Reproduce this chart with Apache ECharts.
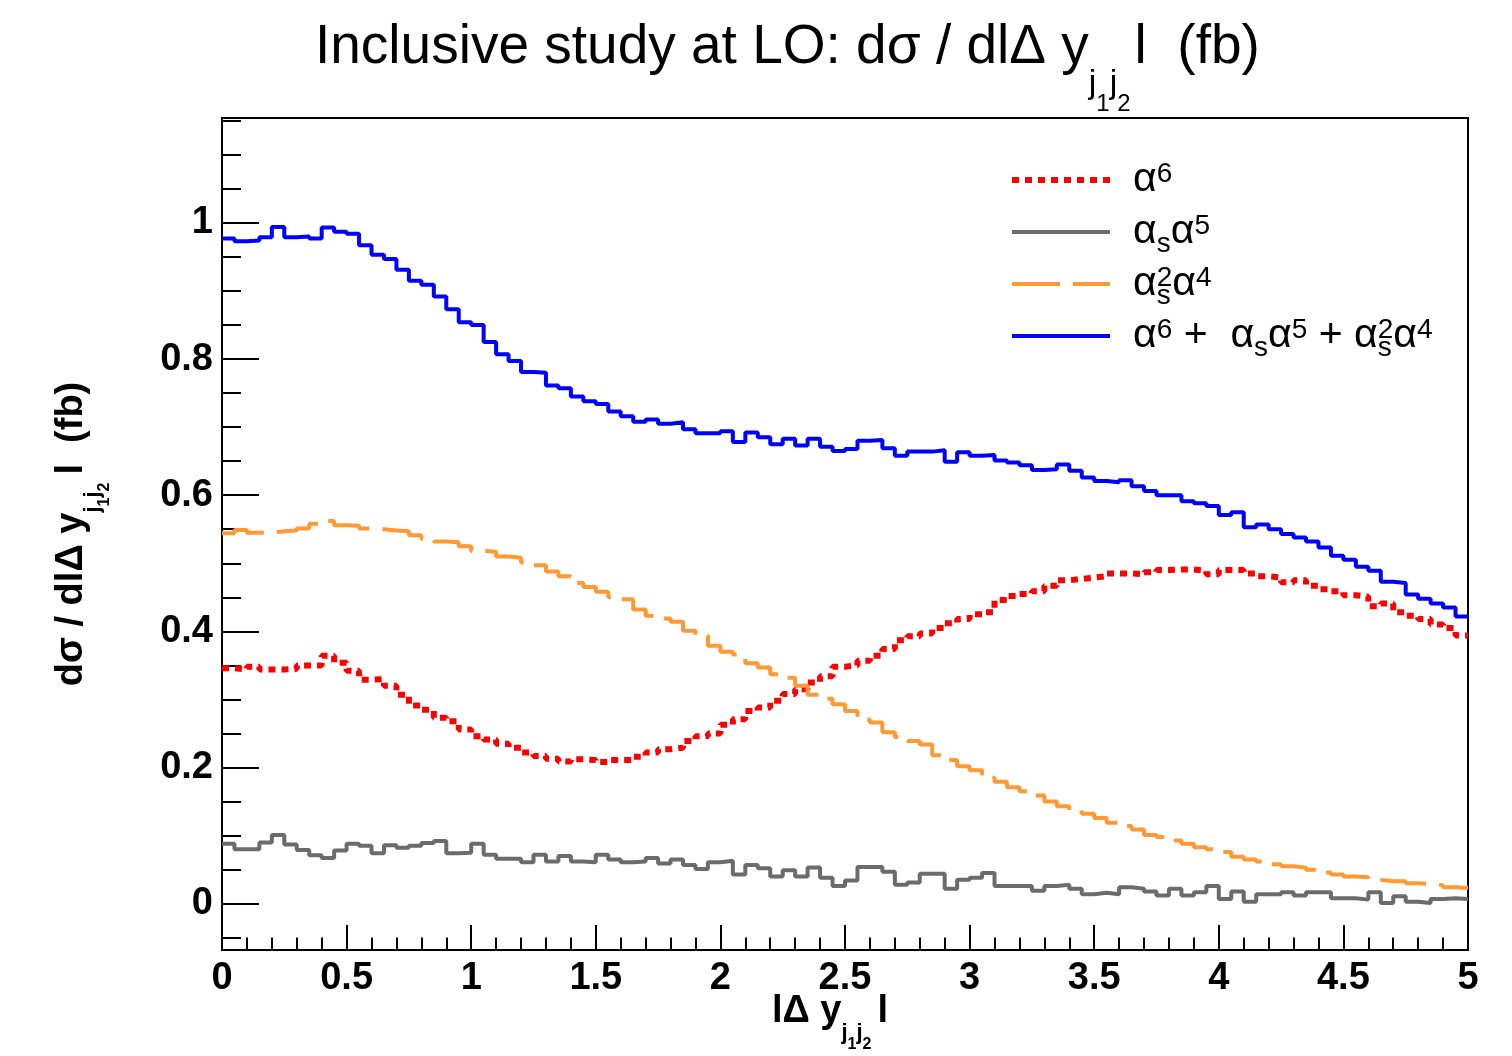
<!DOCTYPE html>
<html>
<head>
<meta charset="utf-8">
<script src="https://cdn.jsdelivr.net/npm/echarts@6/dist/echarts.min.js"></script>
<style>
  html, body { margin: 0; padding: 0; background: #fff; }
  #chart { width: 1512px; height: 1056px; }
</style>
</head>
<body>
<div id="chart"></div>
<script>
// histogram bins: 100 bins of width 0.05 on |Δy_j1j2| in [0, 5]
const binWidth = 0.05;

// α^6
const alpha6 = [
  0.346, 0.344, 0.348, 0.344, 0.344, 0.345, 0.350, 0.350, 0.364, 0.354,
  0.342, 0.329, 0.330, 0.320, 0.307, 0.291, 0.285, 0.273, 0.268, 0.256,
  0.246, 0.241, 0.235, 0.229, 0.222, 0.217, 0.213, 0.209, 0.212, 0.211,
  0.208, 0.211, 0.211, 0.216, 0.222, 0.227, 0.229, 0.239, 0.246, 0.250,
  0.263, 0.271, 0.283, 0.288, 0.298, 0.308, 0.315, 0.325, 0.334, 0.348,
  0.350, 0.357, 0.364, 0.374, 0.387, 0.393, 0.397, 0.405, 0.412, 0.418,
  0.425, 0.428, 0.446, 0.452, 0.455, 0.459, 0.467, 0.475, 0.477, 0.479,
  0.481, 0.485, 0.485, 0.484, 0.487, 0.490, 0.491, 0.491, 0.489, 0.484,
  0.490, 0.490, 0.485, 0.481, 0.479, 0.472, 0.475, 0.467, 0.462, 0.459,
  0.453, 0.451, 0.437, 0.441, 0.428, 0.423, 0.418, 0.410, 0.405, 0.394
];

// α_s α^5
const alphaS_alpha5 = [
  0.088, 0.080, 0.080, 0.090, 0.101, 0.087, 0.079, 0.071, 0.067, 0.078,
  0.088, 0.085, 0.074, 0.086, 0.082, 0.085, 0.089, 0.092, 0.074, 0.075,
  0.088, 0.072, 0.066, 0.066, 0.061, 0.072, 0.062, 0.070, 0.062, 0.061,
  0.072, 0.065, 0.061, 0.062, 0.067, 0.059, 0.065, 0.057, 0.051, 0.061,
  0.063, 0.043, 0.057, 0.052, 0.040, 0.049, 0.040, 0.053, 0.038, 0.026,
  0.034, 0.054, 0.054, 0.047, 0.028, 0.031, 0.044, 0.044, 0.022, 0.035,
  0.038, 0.045, 0.026, 0.026, 0.026, 0.019, 0.026, 0.028, 0.022, 0.014,
  0.016, 0.014, 0.024, 0.022, 0.018, 0.012, 0.022, 0.012, 0.017, 0.026,
  0.007, 0.018, 0.003, 0.014, 0.014, 0.017, 0.012, 0.017, 0.017, 0.008,
  0.008, 0.006, 0.017, 0.001, 0.011, 0.003, 0.001, 0.007, 0.008, 0.007
];

// α_s^2 α^4
const alphaS2_alpha4 = [
  0.544, 0.549, 0.545, 0.545, 0.547, 0.548, 0.551, 0.558, 0.562, 0.556,
  0.555, 0.551, 0.550, 0.548, 0.547, 0.541, 0.536, 0.532, 0.531, 0.525,
  0.518, 0.517, 0.510, 0.508, 0.501, 0.497, 0.488, 0.481, 0.471, 0.465,
  0.458, 0.450, 0.447, 0.432, 0.423, 0.419, 0.414, 0.401, 0.394, 0.379,
  0.370, 0.366, 0.353, 0.347, 0.337, 0.332, 0.320, 0.307, 0.301, 0.293,
  0.283, 0.270, 0.266, 0.252, 0.245, 0.239, 0.234, 0.218, 0.211, 0.202,
  0.196, 0.185, 0.179, 0.171, 0.165, 0.159, 0.150, 0.143, 0.137, 0.132,
  0.126, 0.119, 0.114, 0.109, 0.101, 0.098, 0.093, 0.088, 0.083, 0.080,
  0.076, 0.069, 0.065, 0.062, 0.058, 0.055, 0.053, 0.050, 0.046, 0.043,
  0.040, 0.039, 0.035, 0.033, 0.033, 0.030, 0.029, 0.027, 0.024, 0.023
];

// α^6 + α_s α^5 + α_s^2 α^4
const sumAll = [
  0.977, 0.973, 0.974, 0.979, 0.994, 0.979, 0.980, 0.977, 0.993, 0.987,
  0.984, 0.967, 0.953, 0.947, 0.931, 0.915, 0.909, 0.892, 0.873, 0.854,
  0.850, 0.825, 0.807, 0.797, 0.781, 0.780, 0.761, 0.757, 0.745, 0.738,
  0.734, 0.723, 0.716, 0.708, 0.711, 0.705, 0.707, 0.697, 0.691, 0.691,
  0.694, 0.678, 0.692, 0.685, 0.675, 0.683, 0.673, 0.683, 0.671, 0.665,
  0.668, 0.680, 0.681, 0.669, 0.658, 0.664, 0.664, 0.666, 0.649, 0.663,
  0.658, 0.659, 0.651, 0.648, 0.644, 0.637, 0.638, 0.645, 0.636, 0.626,
  0.621, 0.619, 0.622, 0.613, 0.606, 0.600, 0.600, 0.591, 0.588, 0.584,
  0.571, 0.575, 0.553, 0.557, 0.550, 0.543, 0.538, 0.532, 0.523, 0.511,
  0.505, 0.495, 0.489, 0.473, 0.471, 0.454, 0.448, 0.441, 0.435, 0.422
];

// axis ticks
const yLabelTicks = [0, 0.2, 0.4, 0.6, 0.8, 1];
const yMinorTicks = [
  -0.05, 0, 0.05, 0.1, 0.15, 0.2, 0.25, 0.3, 0.35, 0.4, 0.45, 0.5,
  0.55, 0.6, 0.65, 0.7, 0.75, 0.8, 0.85, 0.9, 0.95, 1, 1.05, 1.1, 1.15
];

const FONT = 'Liberation Sans, Arial, Helvetica, sans-serif';

// histogram outline: each bin value held from its low edge to the next edge
function histPoints(vals) {
  const pts = vals.map((v, i) => [i * binWidth, v]);
  pts.push([vals.length * binWidth, vals[vals.length - 1]]);
  return pts;
}

// rich text pieces (main / sub / subsub), lowered with top padding
function richSet(main, sub, subsub, lh, subShift, subsubShift, bold, afterGap) {
  const w = bold ? 'bold' : 'normal';
  const base = { fontFamily: FONT, fontWeight: w, color: '#000', lineHeight: lh, verticalAlign: 'middle' };
  return {
    m: Object.assign({}, base, { fontSize: main }),
    e: Object.assign({}, base, { fontSize: main, padding: [0, 0, 0, afterGap] }),
    s: Object.assign({}, base, { fontSize: sub, padding: [subShift * 2, 0, 0, 0] }),
    ss: Object.assign({}, base, { fontSize: subsub, padding: [subsubShift * 2, 0, 0, 0] })
  };
}

const legendLabels = {
  'a6': '{m|α}{sup|6}{hid|s}',
  'as_a5': '{m|α}{sub|s}{m|α}{sup|5}',
  'as2_a4': '{m|α}{sub|s}{supx|2}{m|α}{sup|4}',
  'sum': '{m|α}{sup|6}{m| +  α}{sub|s}{m|α}{sup|5}{m| + α}{sub|s}{supx|2}{m|α}{sup|4}'
};

const legendBase = { fontFamily: FONT, color: '#000', lineHeight: 40, verticalAlign: 'middle' };

const chart = echarts.init(document.getElementById('chart'), null, { renderer: 'canvas' });

const option = {
  animation: false,
  backgroundColor: '#fff',
  title: {
    text: '{m|Inclusive study at LO: dσ / dlΔ y}{s|j}{ss|1}{s|j}{ss|2}{e|l  (fb)}',
    left: 315,
    top: 18,
    padding: 0,
    textStyle: {
      rich: richSet(55, 34, 24, 60, 36, 56, false, 4)
    }
  },
  legend: {
    orient: 'vertical',
    left: 1009,
    top: 154,
    padding: 0,
    itemGap: 0,
    itemWidth: 98,
    itemHeight: 14,
    selectedMode: false,
    data: ['a6', 'as_a5', 'as2_a4', 'sum'],
    formatter: (name) => legendLabels[name],
    lineStyle: { width: 'inherit' },
    itemStyle: { opacity: 0 },
    textStyle: {
      padding: [0, 0, 0, 18],
      rich: {
        m: Object.assign({}, legendBase, { fontSize: 41 }),
        sup: Object.assign({}, legendBase, { fontSize: 28, padding: [0, 0, 12, 0] }),
        sub: Object.assign({}, legendBase, { fontSize: 28, padding: [24, 0, 0, 0] }),
        hid: Object.assign({}, legendBase, { fontSize: 28, padding: [24, 0, 0, 0], color: 'rgba(0,0,0,0)' }),
        supx: Object.assign({}, legendBase, { fontSize: 28, padding: [0, 0, 12, -14] })
      }
    }
  },
  grid: {
    left: 222,
    right: 44,
    top: 118,
    bottom: 106,
    show: true,
    borderColor: '#000',
    borderWidth: 2,
    outerBoundsMode: 'none'
  },
  xAxis: {
    type: 'value',
    position: 'bottom',
    min: 0,
    max: 5,
    interval: 0.5,
    name: '{m|lΔ y}{s|j}{ss|1}{s|j}{ss|2}{e|l}',
    nameLocation: 'middle',
    nameGap: 37,
    nameMoveOverlap: false,
    nameTextStyle: { padding: [0, 30, 0, 0], rich: richSet(38, 22, 16, 50, 21, 33, true, 6) },
    axisLine: { show: true, onZero: false, lineStyle: { color: '#000', width: 2 } },
    axisTick: { show: true, inside: true, length: 25, lineStyle: { color: '#000', width: 2 } },
    minorTick: { show: true, splitNumber: 5, length: 12.5, lineStyle: { color: '#000', width: 2 } },
    axisLabel: { fontSize: 38, fontWeight: 'bold', fontFamily: FONT, color: '#000', margin: 10 },
    splitLine: { show: false }
  },
  yAxis: [
    {
      type: 'value',
      position: 'left',
      min: -0.068,
      max: 1.154,
      name: '{m|dσ / dlΔ y}{s|j}{ss|1}{s|j}{ss|2}{e|l  (fb)}',
      nameLocation: 'middle',
      nameRotate: 90,
      nameGap: 125,
      nameMoveOverlap: false,
      nameTextStyle: { rich: richSet(38, 22, 16, 50, 21, 33, true, 8) },
      axisLine: { show: true, onZero: false, lineStyle: { color: '#000', width: 2 } },
      axisTick: { show: true, inside: true, length: 37, customValues: yLabelTicks, lineStyle: { color: '#000', width: 2 } },
      axisLabel: { customValues: yLabelTicks, fontSize: 38, fontWeight: 'bold', fontFamily: FONT, color: '#000', margin: 9 },
      splitLine: { show: false }
    },
    {
      type: 'value',
      position: 'left',
      min: -0.068,
      max: 1.154,
      axisLine: { show: false, onZero: false },
      axisTick: { show: true, inside: true, length: 19, customValues: yMinorTicks, lineStyle: { color: '#000', width: 2 } },
      axisLabel: { show: false },
      splitLine: { show: false }
    }
  ],
  series: [
    {
      name: 'a6',
      type: 'line',
      step: 'end',
      symbol: 'none',
      data: histPoints(alpha6),
      lineStyle: { color: '#ff0000', width: 6, type: [7, 6], cap: 'butt' },
      itemStyle: { color: '#ff0000' }
    },
    {
      name: 'as_a5',
      type: 'line',
      step: 'end',
      symbol: 'none',
      data: histPoints(alphaS_alpha5),
      lineStyle: { color: '#6b6b6b', width: 4 },
      itemStyle: { color: '#6b6b6b' }
    },
    {
      name: 'as2_a4',
      type: 'line',
      step: 'end',
      symbol: 'none',
      data: histPoints(alphaS2_alpha4),
      lineStyle: { color: '#ff9933', width: 4, type: [48, 13] },
      itemStyle: { color: '#ff9933' }
    },
    {
      name: 'sum',
      type: 'line',
      step: 'end',
      symbol: 'none',
      data: histPoints(sumAll),
      lineStyle: { color: '#0000ff', width: 4 },
      itemStyle: { color: '#0000ff' }
    }
  ]
};

chart.setOption(option);
</script>
</body>
</html>
